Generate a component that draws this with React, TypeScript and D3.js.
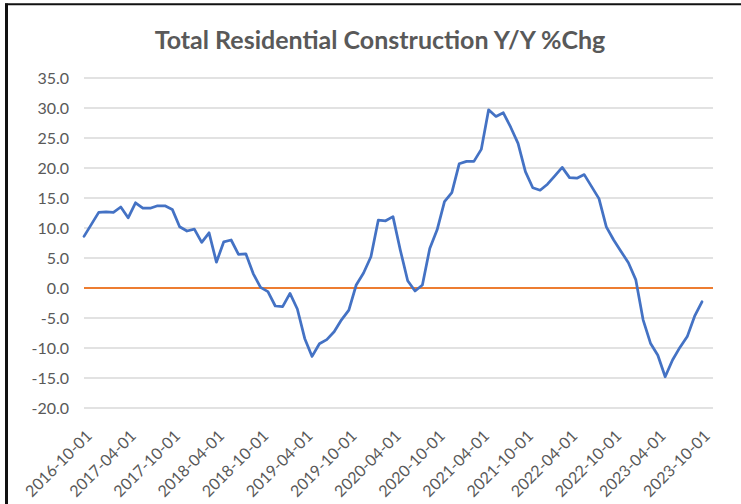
import React, { useEffect, useRef } from 'react';
import * as d3 from 'd3';

// monthly Y/Y % change, 2016-10 .. 2023-10
const values: number[] = [
  8.6, 10.6, 12.6, 12.7, 12.6, 13.5, 11.7, 14.2, 13.3, 13.3, 13.7, 13.7,
  13.1, 10.2, 9.5, 9.8, 7.6, 9.2, 4.3, 7.7, 8.0, 5.6, 5.7, 2.4,
  0.1, -0.6, -3.0, -3.1, -0.9, -3.5, -8.4, -11.4, -9.3, -8.6, -7.3, -5.3,
  -3.7, 0.5, 2.5, 5.2, 11.3, 11.2, 11.9, 6.3, 1.2, -0.5, 0.5, 6.6,
  9.7, 14.4, 15.9, 20.7, 21.1, 21.1, 23.1, 29.7, 28.6, 29.2, 26.8, 24.1,
  19.4, 16.7, 16.3, 17.3, 18.7, 20.1, 18.4, 18.3, 18.9, 16.9, 14.9, 10.2,
  8.0, 6.1, 4.2, 1.4, -5.3, -9.2, -11.2, -14.8, -12.0, -9.9, -8.1, -4.7,
  -2.3,
];

const tickLabels: string[] = [
  '2016-10-01', '2017-04-01', '2017-10-01', '2018-04-01', '2018-10-01',
  '2019-04-01', '2019-10-01', '2020-04-01', '2020-10-01', '2021-04-01',
  '2021-10-01', '2022-04-01', '2022-10-01', '2023-04-01', '2023-10-01',
];
const tickStep = 6; // months between labels

const yTicks: number[] = [35, 30, 25, 20, 15, 10, 5, 0, -5, -10, -15, -20];

const title = 'Total Residential Construction Y/Y %Chg';

const W = 741;
const H = 504;

const App = () => {
  const ref = useRef<SVGSVGElement | null>(null);

  useEffect(() => {
    if (!ref.current) return;
    const svg = d3.select(ref.current);
    svg.selectAll('*').remove();

    const font = 'Lato, "Open Sans", sans-serif';
    const grey = '#595959';

    const x = d3.scaleLinear().domain([0, 85.5]).range([84, 713]);
    const y = d3.scaleLinear().domain([-20, 35]).range([408, 78]);

    svg.append('rect').attr('width', W).attr('height', H).attr('fill', '#fff');

    // frame (only top and left edges show in the crop)
    svg.append('line')
      .attr('x1', 5).attr('x2', W).attr('y1', 4.3).attr('y2', 4.3)
      .attr('stroke', '#111').attr('stroke-width', 2);
    svg.append('line')
      .attr('x1', 6.5).attr('x2', 6.5).attr('y1', 3.5).attr('y2', H)
      .attr('stroke', '#111').attr('stroke-width', 3);

    svg.append('text')
      .attr('x', 380).attr('y', 49)
      .attr('text-anchor', 'middle')
      .attr('font-family', font).attr('font-weight', 700)
      .attr('font-size', 25).attr('fill', grey)
      .text(title);

    // gridlines
    svg.append('g')
      .selectAll('line')
      .data(yTicks.filter(d => d !== 0))
      .join('line')
      .attr('x1', x(0)).attr('x2', x(85.5))
      .attr('y1', d => y(d)).attr('y2', d => y(d))
      .attr('stroke', '#d9d9d9').attr('stroke-width', 1.5);

    // y labels
    svg.append('g')
      .selectAll('text')
      .data(yTicks)
      .join('text')
      .attr('x', 69).attr('y', d => y(d))
      .attr('dy', '0.35em')
      .attr('text-anchor', 'end')
      .attr('font-family', font).attr('font-size', 16).attr('fill', grey)
      .text(d => d.toFixed(1));

    // zero line
    svg.append('line')
      .attr('x1', x(0)).attr('x2', x(85.5))
      .attr('y1', y(0)).attr('y2', y(0))
      .attr('stroke', '#ED7D31').attr('stroke-width', 2);

    // x labels, rotated
    svg.append('g')
      .selectAll('text')
      .data(tickLabels)
      .join('text')
      .attr('text-anchor', 'end')
      .attr('transform', (d, i) => `translate(${x(i * tickStep) + 9},${437}) rotate(-45)`)
      .attr('font-family', font).attr('font-size', 16).attr('fill', grey)
      .text(d => d);

    const line = d3.line<number>()
      .x((d, i) => x(i))
      .y(d => y(d));

    svg.append('path')
      .datum(values)
      .attr('fill', 'none')
      .attr('stroke', '#4472C4')
      .attr('stroke-width', 2.75)
      .attr('stroke-linejoin', 'round')
      .attr('stroke-linecap', 'round')
      .attr('d', line);
  }, []);

  return (
    <svg
      ref={ref}
      width={W}
      height={H}
      style={{ position: 'absolute', left: 0, top: 0 }}
    />
  );
};

export default App;
